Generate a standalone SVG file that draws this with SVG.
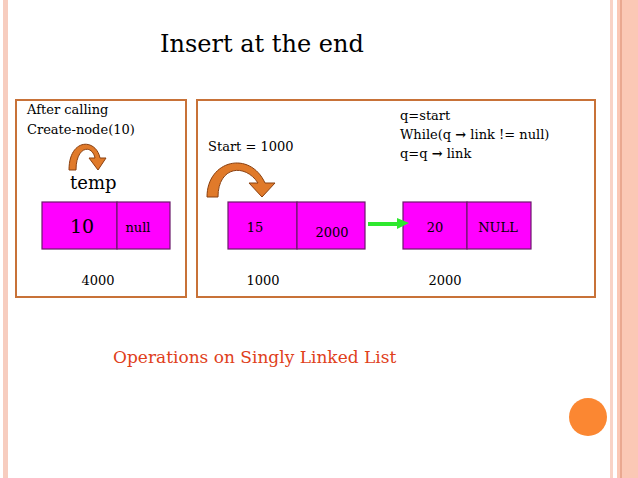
<svg xmlns="http://www.w3.org/2000/svg" width="638" height="478" viewBox="0 0 638 478">
<style>
text{font-family:"DejaVu Serif","Liberation Serif",serif;fill:#000}
.frame{fill:#fff;stroke:#c87238;stroke-width:2}
.cell{fill:#f0f;stroke:#6a1a6a;stroke-width:1.2}
.curve{fill:#e07a2a;stroke:#8a4010;stroke-width:1}
</style>
<rect width="638" height="478" fill="#fff"/>
<rect x="3" y="0" width="5" height="478" fill="#f7cdbf"/>
<rect x="610" y="0" width="3" height="478" fill="#f9d3c6"/>
<rect x="617" y="0" width="21" height="478" fill="#fbc8b5"/>
<rect x="620" y="0" width="2" height="478" fill="#eaa890"/>
<circle cx="588" cy="417" r="19" fill="#fb8732"/>
<text x="160" y="52" font-size="24">Insert at the end</text>
<g id="left">
<rect class="frame" x="16" y="100" width="170" height="197"/>
<text x="27" y="114" font-size="13">After calling</text>
<text x="27" y="134" font-size="13">Create-node(10)</text>
<path class="curve" d="M69,170 C69,138 96,138 100,158 L106,158 L98,170 L89,158 L95,158 C92,144 76,146 76,170 Z"/>
<text x="70" y="189" font-size="18">temp</text>
</g>
<g id="node10">
<rect class="cell" x="42" y="202" width="75" height="47"/>
<rect class="cell" x="117" y="202" width="53" height="47"/>
<text x="82" y="233" font-size="19" text-anchor="middle">10</text>
<text x="138" y="232" font-size="13" text-anchor="middle">null</text>
<text x="98" y="285" font-size="13" text-anchor="middle">4000</text>
</g>
<g id="right">
<rect class="frame" x="197" y="100" width="398" height="197"/>
<text x="208" y="151" font-size="13">Start = 1000</text>
<text x="400" y="120" font-size="13">q=start</text>
<text x="400" y="139" font-size="13">While(q <tspan font-weight="bold">→</tspan> link != null)</text>
<text x="400" y="158" font-size="13">q=q <tspan font-weight="bold">→</tspan> link</text>
<path class="curve" d="M207,197 C207,160 250,150 265,183 L275,183 L262,197 L249,183 L258,183 C245,163 218,166 218,197 Z"/>
</g>
<g id="node15">
<rect class="cell" x="228" y="202" width="69" height="47"/>
<rect class="cell" x="297" y="202" width="68" height="47"/>
<text x="255" y="232" font-size="13" text-anchor="middle">15</text>
<text x="332" y="237" font-size="13" text-anchor="middle">2000</text>
<text x="263" y="285" font-size="13" text-anchor="middle">1000</text>
</g>
<g id="node20">
<rect class="cell" x="403" y="202" width="64" height="47"/>
<rect class="cell" x="467" y="202" width="64" height="47"/>
<text x="435" y="232" font-size="13" text-anchor="middle">20</text>
<text x="498" y="232" font-size="13" text-anchor="middle">NULL</text>
<text x="445" y="285" font-size="13" text-anchor="middle">2000</text>
</g>
<g id="connectors">
<line x1="368" y1="224" x2="398" y2="224" stroke="#2ee82e" stroke-width="4"/>
<polygon points="397,218 409,223 397,229" fill="#2ee82e"/>
</g>
<text x="113" y="363" font-size="17" style="fill:#e0401a">Operations on Singly Linked List</text>
</svg>
